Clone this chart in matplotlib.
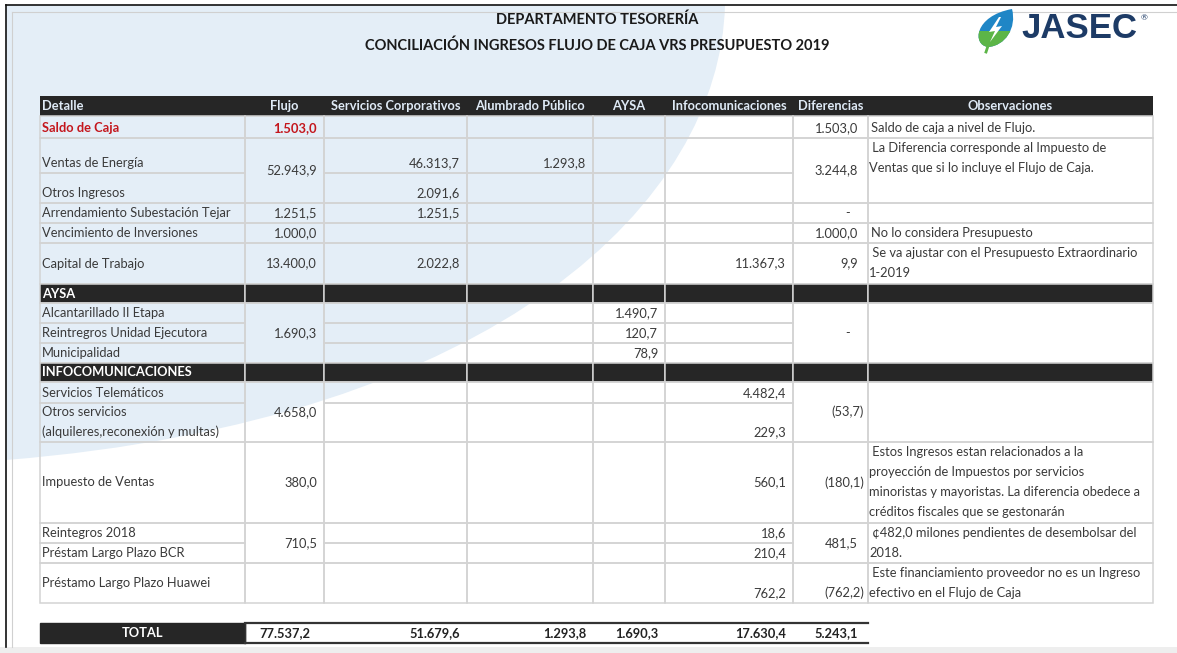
import matplotlib.pyplot as plt
from matplotlib.patches import Rectangle, PathPatch, Polygon
from matplotlib.path import Path

plt.rcParams['font.family'] = ['Lato', 'DejaVu Sans']

# ---- data ----
title_1 = "DEPARTAMENTO TESORERÍA"
title_2 = "CONCILIACIÓN INGRESOS FLUJO DE CAJA VRS PRESUPUESTO 2019"
logo_text = "JASEC"

headers = ["Detalle", "Flujo", "Servicios Corporativos", "Alumbrado Público",
           "AYSA", "Infocomunicaciones", "Diferencias", "Observaciones"]

detalle = ["Saldo de Caja", "Ventas de Energía", "Otros Ingresos",
           "Arrendamiento Subestación Tejar", "Vencimiento de Inversiones",
           "Capital de Trabajo", "AYSA", "Alcantarillado II Etapa",
           "Reintregros Unidad Ejecutora", "Municipalidad", "INFOCOMUNICACIONES",
           "Servicios Telemáticos", "Otros servicios\n(alquileres,reconexión y multas)",
           "Impuesto de Ventas", "Reintegros 2018", "Préstam Largo Plazo BCR",
           "Préstamo Largo Plazo Huawei"]

flujo = [1503.0, 52943.9, None, 1251.5, 1000.0, 13400.0, None, 1690.3, None, None,
         None, 4658.0, None, 380.0, 710.5, None, None]
serv_corp = [None, 46313.7, 2091.6, 1251.5, None, 2022.8, None, None, None, None,
             None, None, None, None, None, None, None]
alumbrado = [None, 1293.8, None, None, None, None, None, None, None, None,
             None, None, None, None, None, None, None]
aysa = [None, None, None, None, None, None, None, 1490.7, 120.7, 78.9,
        None, None, None, None, None, None, None]
infocom = [None, None, None, None, None, 11367.3, None, None, None, None,
           None, 4482.4, 229.3, 560.1, 18.6, 210.4, 762.2]
diferencias = [1503.0, 3244.8, None, 0.0, 1000.0, 9.9, None, 0.0, None, None,
               None, -53.7, None, -180.1, 481.5, None, -762.2]
observaciones = ["Saldo de caja a nivel de Flujo.",
                 " La Diferencia corresponde al Impuesto de\nVentas que si lo incluye el Flujo de Caja.",
                 None, None, "No lo considera Presupuesto",
                 " Se va ajustar con el Presupuesto Extraordinario\n1-2019",
                 None, None, None, None, None, None, None,
                 " Estos Ingresos estan relacionados a la\nproyección de Impuestos por servicios\n"
                 "minoristas y mayoristas. La diferencia obedece a\ncréditos fiscales que se gestonarán",
                 " ¢482,0 milones pendientes de desembolsar del\n2018.",
                 None,
                 " Este financiamiento proveedor no es un Ingreso\nefectivo en el Flujo de Caja"]

total_label = "TOTAL"
totales = [77537.2, 51679.6, 1293.8, 1690.3, 17630.4, 5243.1]

section_rows = [6, 10]
merged = [(1, 2), (7, 3), (11, 2), (14, 2)]
merged_cols = [1, 6, 7]

# ---- layout ----
col_x = [40, 245, 324, 467, 593, 665, 793, 868, 1153]
row_y = [116, 138, 173, 203, 223, 243, 284, 303, 323, 343, 363, 382, 403, 442, 523, 543, 563, 603]
head_top = 96
total_top, total_bot = 623, 643
valign = ['b', 'b', 'b', 'c', 'c', 'c', 'c', 'c', 'c', 'c', 'c', 'b', 'b', 'c', 'b', 'b', 'b']

dark = '#262626'
grid = '#d3d3d3'
txt = '#3a3a3a'
head_txt = '#dfeaf6'
red = '#c4161c'
fs = 9.3


def fmt(v):
    if v is None:
        return ''
    if v == 0:
        return '-'
    s = f"{abs(v):,.1f}".replace(',', 'X').replace('.', ',').replace('X', '.')
    return f"({s})" if v < 0 else s


def spans(col):
    out = []
    r = 0
    while r < len(detalle):
        n = 1
        if col in merged_cols:
            for s, k in merged:
                if s == r:
                    n = k
        out.append((r, n))
        r += n
    return out


def cell_y(r, n, col):
    top, bot = row_y[r], row_y[r + n]
    if n > 1 or valign[r] == 'c' or (col == 0 and r == 16):
        return (top + bot) / 2
    return bot - 10


fig = plt.figure(figsize=(11.77, 6.53), dpi=100)
ax = fig.add_axes([0, 0, 1, 1])
ax.set_xlim(0, 1177)
ax.set_ylim(653, 0)
ax.axis('off')

# background watermark swirl
wm = Path([(6, 5), (725, 5), (720, 200), (500, 420), (6, 460), (6, 5)],
          [Path.MOVETO, Path.LINETO, Path.CURVE4, Path.CURVE4, Path.CURVE4, Path.CLOSEPOLY])
ax.add_patch(PathPatch(wm, facecolor='#e4eef7', edgecolor='none', zorder=0))
ax.add_patch(Rectangle((0, 647), 1177, 6, facecolor='#eeeeee', edgecolor='none', zorder=0))

# frame
ax.plot([6, 1177], [5, 5], color='#111111', lw=1.2, zorder=1)
ax.plot([6, 6], [5, 647], color='#111111', lw=1.2, zorder=1)
ax.plot([12, 1177], [12, 12], color='#d0d0d0', lw=0.8, zorder=1)
ax.plot([12, 12], [12, 647], color='#d0d0d0', lw=0.8, zorder=1)

# titles
ax.text(597, 20, title_1, ha='center', va='center', fontsize=10.5, fontweight='bold', color='#1a1a1a')
ax.text(597, 46, title_2, ha='center', va='center', fontsize=10.5, fontweight='bold', color='#1a1a1a')

# logo
leaf = Path([(1012, 9), (1017, 28), (1005, 46), (988, 47), (972, 45), (974, 16), (1012, 9), (1012, 9)],
            [Path.MOVETO, Path.CURVE4, Path.CURVE4, Path.CURVE4, Path.CURVE4, Path.CURVE4, Path.CURVE4,
             Path.CLOSEPOLY])
leaf_patch = PathPatch(leaf, facecolor='#1f86c6', edgecolor='none', zorder=2)
ax.add_patch(leaf_patch)
green = Rectangle((965, 31), 60, 25, facecolor='#5cb547', edgecolor='none', zorder=3)
ax.add_patch(green)
green.set_clip_path(leaf_patch)
ax.plot([988, 986], [46, 52], color='#5cb547', lw=2, zorder=3)
ax.add_patch(Polygon([(999, 17), (989, 32), (995, 31), (990, 42), (1002, 26), (996, 27), (1001, 17)],
                     facecolor='white', edgecolor='none', zorder=4))
ax.text(1021, 29, logo_text, ha='left', va='center', fontsize=25, fontweight='bold',
        color='#1d3b66', family='Liberation Sans')
ax.text(1141, 18, '®', ha='left', va='center', fontsize=6, color='#1d3b66')

# header bar
ax.add_patch(Rectangle((col_x[0], head_top), col_x[-1] - col_x[0], row_y[0] - head_top,
                       facecolor=dark, edgecolor='none', zorder=2))
for c, h in enumerate(headers):
    if c == 0:
        ax.text(col_x[0] + 2, (head_top + row_y[0]) / 2, h, ha='left', va='center',
                fontsize=fs, fontweight='bold', color=head_txt, zorder=5)
    else:
        ax.text((col_x[c] + col_x[c + 1]) / 2, (head_top + row_y[0]) / 2, h, ha='center',
                va='center', fontsize=fs, fontweight='bold', color=head_txt, zorder=5)

# grid cells
for c in range(len(headers)):
    for r, n in spans(c):
        face = dark if r in section_rows else 'none'
        ax.add_patch(Rectangle((col_x[c], row_y[r]), col_x[c + 1] - col_x[c], row_y[r + n] - row_y[r],
                               facecolor=face, edgecolor=grid, lw=1.1, zorder=3))

# detalle column
for r, label in enumerate(detalle):
    if r in section_rows:
        ax.text(42, (row_y[r] + row_y[r + 1]) / 2, label, ha='left', va='center', fontsize=fs,
                fontweight='bold', color='white', zorder=5)
        continue
    lines = label.split('\n')
    y = cell_y(r, 1, 0)
    if len(lines) > 1:
        y = row_y[r + 1] - 10
    color = red if r == 0 else txt
    weight = 'bold' if r == 0 else 'normal'
    for i, line in enumerate(lines):
        ax.text(42, y - 20 * (len(lines) - 1 - i), line, ha='left', va='center', fontsize=fs,
                color=color, fontweight=weight, zorder=5)

# numeric columns
num_cols = [flujo, serv_corp, alumbrado, aysa, infocom, diferencias]
for k, vals in enumerate(num_cols):
    c = k + 1
    for r, n in spans(c):
        v = vals[r]
        if v is None:
            continue
        right = col_x[c + 1] - (10 if c == 6 else 7)
        if v < 0:
            right += 6
        if v == 0:
            right -= 8
        color = red if r == 0 and c == 1 else txt
        weight = 'bold' if r == 0 and c == 1 else 'normal'
        ax.text(right, cell_y(r, n, c), fmt(v), ha='right', va='center', fontsize=fs,
                color=color, fontweight=weight, zorder=5)

# observaciones
for r, n in spans(7):
    note = observaciones[r]
    if not note:
        continue
    lines = note.split('\n')
    if len(lines) == 1:
        ax.text(col_x[7] + 3, cell_y(r, n, 7), note, ha='left', va='center', fontsize=fs,
                color=txt, zorder=5)
    else:
        for i, line in enumerate(lines):
            ax.text(col_x[7] + 1, row_y[r] + 10 + 20 * i, line, ha='left', va='center',
                    fontsize=fs, color=txt, zorder=5)

# total row
ax.add_patch(Rectangle((col_x[0], total_top), col_x[1] - col_x[0], total_bot - total_top,
                       facecolor=dark, edgecolor=dark, lw=1, zorder=3))
ax.text((col_x[0] + col_x[1]) / 2, (total_top + total_bot) / 2, total_label, ha='center',
        va='center', fontsize=fs, fontweight='bold', color='white', zorder=5)
ax.plot([col_x[1], col_x[7]], [total_top, total_top], color='#333333', lw=1.6, zorder=4)
ax.plot([col_x[1], col_x[7]], [total_bot, total_bot], color='#333333', lw=1.6, zorder=4)
ax.plot([col_x[1], col_x[1]], [total_top, total_bot], color='#333333', lw=1.0, zorder=4)
for k, v in enumerate(totales):
    c = k + 1
    ty = (total_top + total_bot) / 2
    if c == 1:
        ax.text((col_x[1] + col_x[2]) / 2, ty, fmt(v), ha='center', va='center', fontsize=fs,
                fontweight='bold', color='#222222', zorder=5)
    else:
        right = col_x[c + 1] - (10 if c == 6 else 7)
        ax.text(right, ty, fmt(v), ha='right', va='center', fontsize=fs,
                fontweight='bold', color='#222222', zorder=5)

fig.savefig('out.png', dpi=100, facecolor='white')
